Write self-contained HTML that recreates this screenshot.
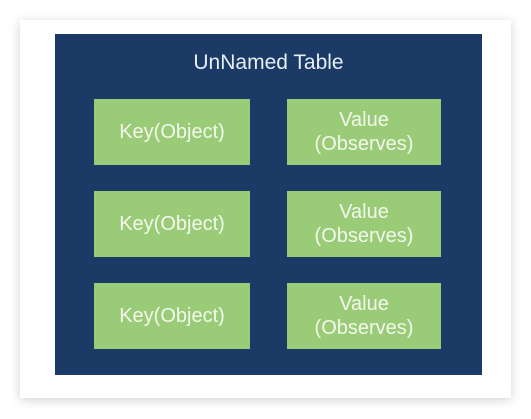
<!DOCTYPE html>
<html><head><style>
body{margin:0;width:531px;height:419px;background:#fff;position:relative;overflow:hidden;font-family:"Liberation Sans",sans-serif}
.card{position:absolute;left:20px;top:20px;width:491px;height:378px;background:#fff;box-shadow:0 2px 10px rgba(0,0,0,0.18)}
.dark{position:absolute;left:55px;top:34px;width:427px;height:341px;background:#1b3a65}
.t{position:absolute;left:55px;top:51px;width:427px;text-align:center;color:#e6eef6;font-size:21px}
.b{position:absolute;width:156px;height:66px;background:#9acb76;color:#f3f8ee;font-size:20px;display:flex;align-items:center;justify-content:center;text-align:center;line-height:24px}
</style></head><body>
<div class="card"></div>
<div class="dark"></div>
<div class="t">UnNamed Table</div>
<div class="b" style="left:94px;top:99px">Key(Object)</div>
<div class="b" style="left:287px;top:99px;width:154px">Value<br>(Observes)</div>
<div class="b" style="left:94px;top:191px">Key(Object)</div>
<div class="b" style="left:287px;top:191px;width:154px">Value<br>(Observes)</div>
<div class="b" style="left:94px;top:283px">Key(Object)</div>
<div class="b" style="left:287px;top:283px;width:154px">Value<br>(Observes)</div>
</body></html>
